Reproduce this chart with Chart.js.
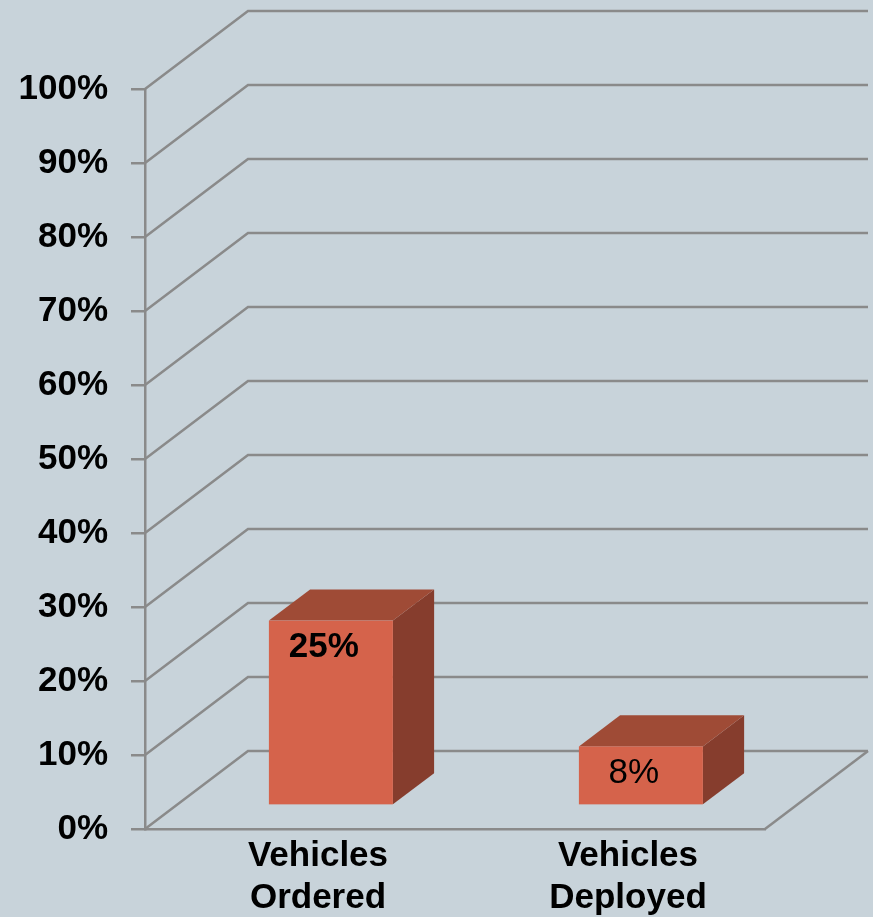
<!DOCTYPE html>
<html>
<head>
<meta charset="utf-8">
<script src="https://cdn.jsdelivr.net/npm/chart.js@4/dist/chart.umd.min.js"></script>
<style>
  html, body { margin: 0; padding: 0; background: #c8d3da; }
  #wrap { width: 873px; height: 917px; position: relative; }
</style>
</head>
<body>
<div id="wrap"><canvas id="c" width="873" height="917"></canvas></div>
<script>
// ---- data ----
const categories = [["Vehicles", "Ordered"], ["Vehicles", "Deployed"]];
const values = [25, 8];
const valueLabels = ["25%", "8%"];
const yTicks = [0, 10, 20, 30, 40, 50, 60, 70, 80, 90, 100];

// ---- style ----
const GRID = "#8a8a8a";
const FRONT = "#d5634b";
const TOP = "#9f4b36";
const SIDE = "#863d2d";
const DX = 103, DY = 78;           // depth vector of the floor
const BAR_NEAR = 0.3, BAR_FAR = 0.7; // bar depth range (fraction of depth)
const FONT = "'Liberation Sans', Arial, sans-serif";

const threeD = {
  id: "threeD",
  beforeDatasetsDraw(chart) {
    const ctx = chart.ctx;
    const ys = chart.scales.y, xs = chart.scales.x;
    const L = xs.left, R = xs.right;
    ctx.save();
    ctx.strokeStyle = GRID;
    ctx.lineWidth = 2.5;
    ctx.lineCap = "butt";
    yTicks.forEach(v => {
      const py = ys.getPixelForValue(v);
      ctx.beginPath();
      ctx.moveTo(L, py);
      ctx.lineTo(L + DX, py - DY);
      ctx.lineTo(R + DX, py - DY);
      ctx.stroke();
    });
    // floor right edge
    const p0 = ys.getPixelForValue(0);
    ctx.beginPath();
    ctx.moveTo(R, p0);
    ctx.lineTo(R + DX, p0 - DY);
    ctx.stroke();
    ctx.restore();
  },
  afterDatasetsDraw(chart) {
    const ctx = chart.ctx;
    const meta = chart.getDatasetMeta(0);
    ctx.save();
    meta.data.forEach((el, i) => {
      const p = el.getProps(["x", "y", "base", "width"], true);
      const ox = DX * BAR_NEAR, oy = DY * BAR_NEAR;
      const dx = DX * (BAR_FAR - BAR_NEAR), dy = DY * (BAR_FAR - BAR_NEAR);
      const x0 = p.x - p.width / 2 + ox, x1 = p.x + p.width / 2 + ox;
      const yt = p.y - oy, yb = p.base - oy;
      // side
      ctx.fillStyle = SIDE;
      ctx.beginPath();
      ctx.moveTo(x1, yt); ctx.lineTo(x1 + dx, yt - dy);
      ctx.lineTo(x1 + dx, yb - dy); ctx.lineTo(x1, yb);
      ctx.closePath(); ctx.fill();
      // top
      ctx.fillStyle = TOP;
      ctx.beginPath();
      ctx.moveTo(x0, yt); ctx.lineTo(x0 + dx, yt - dy);
      ctx.lineTo(x1 + dx, yt - dy); ctx.lineTo(x1, yt);
      ctx.closePath(); ctx.fill();
      // front
      ctx.fillStyle = FRONT;
      ctx.fillRect(x0, yt, x1 - x0, yb - yt);
      // value label
      ctx.fillStyle = "#000";
      ctx.font = (i === 0 ? "bold " : "") + "35px " + FONT;
      ctx.textAlign = "center";
      ctx.textBaseline = "middle";
      ctx.fillText(valueLabels[i], (x0 + x1) / 2 - 7, yt + 27);
    });
    ctx.restore();
  }
};

new Chart(document.getElementById("c"), {
  type: "bar",
  data: {
    labels: categories,
    datasets: [{
      data: values,
      backgroundColor: "rgba(0,0,0,0)",
      borderWidth: 0,
      barPercentage: 0.4,
      categoryPercentage: 1.0
    }]
  },
  options: {
    responsive: false,
    animation: false,
    events: [],
    layout: { padding: { top: 89, right: 108, left: 0, bottom: 0 } },
    plugins: { legend: { display: false }, tooltip: { enabled: false } },
    scales: {
      y: {
        min: 0, max: 100,
        afterBuildTicks: s => { s.ticks = yTicks.map(v => ({ value: v })); },
        afterFit: s => { s.width = 145; },
        grid: { drawOnChartArea: false, drawTicks: true, tickLength: 14, color: GRID, lineWidth: 2.5 },
        border: { display: true, color: GRID, width: 2.5 },
        ticks: {
          padding: 23,
          color: "#000",
          font: { family: FONT, size: 35, weight: "bold" },
          callback: v => v + "%"
        }
      },
      x: {
        afterFit: s => { s.height = 88; },
        grid: { display: false, drawTicks: false },
        border: { display: true, color: GRID, width: 2.5 },
        ticks: {
          padding: 6,
          labelOffset: 18,
          maxRotation: 0,
          color: "#000",
          font: { family: FONT, size: 35, weight: "bold", lineHeight: 1.2 }
        }
      }
    }
  },
  plugins: [threeD]
});
</script>
</body>
</html>
